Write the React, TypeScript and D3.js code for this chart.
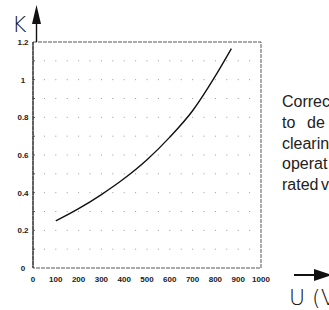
import React from "react";
import * as d3 from "d3";

const uValues = [100, 200, 300, 400, 500, 600, 700, 800, 870];
const kValues = [0.25, 0.315, 0.39, 0.475, 0.575, 0.695, 0.835, 1.02, 1.165];
const xTicks = [0, 100, 200, 300, 400, 500, 600, 700, 800, 900, 1000];
const yTicks = [0, 0.2, 0.4, 0.6, 0.8, 1, 1.2];
const yTickLabels = ["0", "0.2", "0.4", "0.6", "0.8", "1", "1.2"];
const textLines = [["Correc"], ["to", "de"], ["clearin"], ["operat"], ["rated", "v"]];

export default function App() {
  const x = d3.scaleLinear().domain([0, 1000]).range([33, 261]);
  const y = d3.scaleLinear().domain([0, 1.2]).range([268, 42]);
  const line = d3.line<number>().x((_, i) => x(uValues[i])).y((d) => y(d)).curve(d3.curveMonotoneX);
  const gridX = d3.range(50, 1000, 50);
  const gridY = d3.range(0.1, 1.2, 0.1);
  const dots: [number, number][] = [];
  gridX.forEach((gx) => gridY.forEach((gy) => dots.push([gx, gy])));
  const minorY = d3.range(0.1, 1.2, 0.1);
  const font = "Liberation Sans, Arial, sans-serif";
  return (
    <svg width={329} height={310} style={{ position: "absolute", left: 0, top: 0, background: "#fff" }}>
      {dots.map(([gx, gy], i) => (
        <rect key={i} x={x(gx) - 0.5} y={y(gy) - 0.5} width={1} height={1} fill="#999" />
      ))}
      <rect x={x(0)} y={y(1.2)} width={x(1000) - x(0)} height={y(0) - y(1.2)} fill="none" stroke="#444" strokeWidth={0.9} strokeDasharray="4,1" />
      <line x1={x(0)} x2={x(0)} y1={y(0)} y2={y(1.2)} stroke="#222" strokeWidth={1.1} />
      <line x1={36.5} x2={36.5} y1={y(1.2)} y2={12} stroke="#111" strokeWidth={1.4} />
      <path d={`M36.5,5 L32,24 L41,24 Z`} fill="#111" />
      {minorY.map((v, i) => (
        <line key={i} x1={x(0)} x2={x(0) + 2} y1={y(v)} y2={y(v)} stroke="#333" strokeWidth={0.8} />
      ))}
      <text x={12} y={32} fontFamily="DejaVu Sans" fontWeight={200} fontSize={22} fill="#111">K</text>
      {yTicks.map((v, i) => (
        <text key={i} x={23} y={y(v) + 3} textAnchor="middle" fontFamily={font} fontWeight="bold" fontSize={8} fill="#222">
          {yTickLabels[i]}
        </text>
      ))}
      {xTicks.map((v, i) => (
        <text key={i} x={x(v)} y={282} textAnchor="middle" fontFamily={font} fontWeight="bold" fontSize={8} fill="#222">
          {v}
        </text>
      ))}
      <path d={line(kValues) || ""} fill="none" stroke="#111" strokeWidth={1.4} />
      {textLines.map((words, i) => (
        <g key={i}>
          <text x={282} y={107 + i * 20.8} fontFamily={font} fontSize={16} fill="#222">{words[0]}</text>
          {words.length > 1 && (
            <text x={i === 1 ? 307 : 321} y={107 + i * 20.8} fontFamily={font} fontSize={16} fill="#222">{words[1]}</text>
          )}
        </g>
      ))}
      <line x1={294} x2={318} y1={275} y2={275} stroke="#111" strokeWidth={2} />
      <path d="M314,269 L332,275 L314,281 Z" fill="#111" />
      <text x={289} y={305} fontFamily="DejaVu Sans" fontWeight={200} fontSize={22} fill="#111">U (V</text>
    </svg>
  );
}
